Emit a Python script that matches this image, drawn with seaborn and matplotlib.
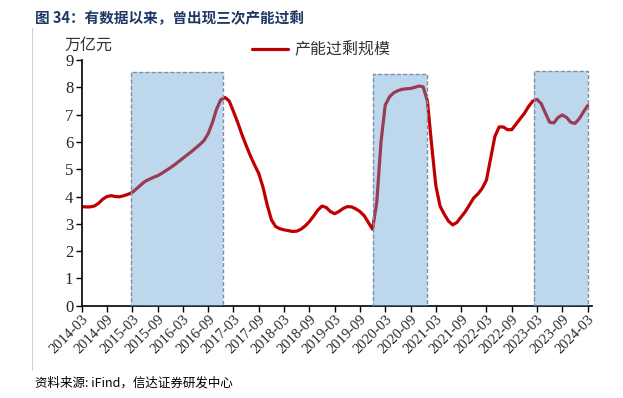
import numpy as np
import pandas as pd
import matplotlib
matplotlib.use("Agg")
import matplotlib.pyplot as plt
import seaborn as sns
from matplotlib.patches import Rectangle
from matplotlib.lines import Line2D

# monthly values, 2014-03 .. 2024-03 (万亿元)
overcap = [
    3.63, 3.62, 3.62, 3.65, 3.75, 3.90, 4.00, 4.03, 4.00, 3.99, 4.03, 4.08,
    4.15, 4.28, 4.42, 4.55, 4.63, 4.70, 4.76, 4.85, 4.95, 5.05, 5.16, 5.28,
    5.40, 5.52, 5.64, 5.77, 5.90, 6.05, 6.30, 6.70, 7.20, 7.55, 7.63, 7.50,
    7.12, 6.72, 6.28, 5.88, 5.50, 5.16, 4.85, 4.35, 3.70, 3.15, 2.90, 2.82,
    2.78, 2.75, 2.72, 2.73, 2.80, 2.92, 3.08, 3.28, 3.50, 3.65, 3.60, 3.45,
    3.37, 3.45, 3.56, 3.63, 3.62, 3.55, 3.45, 3.30, 3.05, 2.80, 3.80, 6.00,
    7.35, 7.65, 7.80, 7.88, 7.93, 7.95, 7.96, 8.00, 8.05, 8.02, 7.50, 5.90,
    4.40, 3.65, 3.35, 3.10, 2.96, 3.05, 3.25, 3.45, 3.70, 3.95, 4.10, 4.30,
    4.60, 5.40, 6.20, 6.55, 6.55, 6.45, 6.45, 6.65, 6.85, 7.05, 7.30, 7.50,
    7.56, 7.40, 7.05, 6.72, 6.70, 6.90, 6.99, 6.90, 6.72, 6.68, 6.85, 7.10,
    7.33,
]
month_idx = list(range(len(overcap)))

tick_labels = ["2014-03", "2014-09", "2015-03", "2015-09", "2016-03", "2016-09",
               "2017-03", "2017-09", "2018-03", "2018-09", "2019-03", "2019-09",
               "2020-03", "2020-09", "2021-03", "2021-09", "2022-03", "2022-09",
               "2023-03", "2023-09", "2024-03"]

# shaded overcapacity periods: (start month idx, end month idx, top)
periods = [(11.6, 33.5, 8.55), (69.1, 81.9, 8.5), (107.3, 120.0, 8.6)]

df = pd.DataFrame({"m": month_idx, "v": overcap})

sns.set_style("ticks")
plt.rcParams['font.family'] = ['Liberation Serif', 'Noto Sans CJK SC', 'DejaVu Sans']

fig = plt.figure(figsize=(6.23, 3.98), dpi=100)
ax = fig.add_axes([0.131, 0.232, 0.819, 0.617])

sns.lineplot(data=df, x="m", y="v", ax=ax, color="#C00000", lw=2.3,
             label="产能过剩规模", zorder=2, solid_joinstyle="round")

for s, e, top in periods:
    ax.add_patch(Rectangle((s, 0), e - s, top, facecolor="#5A9BD4", alpha=0.4,
                           edgecolor="none", zorder=3))
    ax.add_patch(Rectangle((s, 0), e - s, top, facecolor="none",
                           edgecolor="#7F8FA6", lw=1.0, ls=(0, (3, 1.5)), zorder=4))

ax.set_xlim(0, 121)
ax.set_ylim(0, 9)
ax.set_xticks(range(0, 121, 6))
ax.set_xticklabels(tick_labels, rotation=45, ha="right", rotation_mode="anchor",
                   fontsize=10.5, family="Liberation Serif")
ax.set_yticks(range(0, 10))
ax.set_yticklabels([str(i) for i in range(10)], fontsize=12, family="Liberation Serif")
ax.tick_params(axis="both", direction="out", length=4, width=1, color="black", pad=2)
ax.tick_params(axis="x", pad=1)
ax.set_xlabel("")
ax.set_ylabel("")
for sp in ["top", "right"]:
    ax.spines[sp].set_visible(False)
for sp in ["left", "bottom"]:
    ax.spines[sp].set_color("black")
    ax.spines[sp].set_linewidth(1.2)

leg = ax.legend(loc="upper left", bbox_to_anchor=(0.305, 1.135), frameon=False,
                handlelength=2.3, handletextpad=0.4,
                prop={"family": "Noto Sans CJK SC", "size": 11.5})
for t in leg.get_texts():
    t.set_color("#333333")

fig.text(0.103, 0.875, "万亿元", fontsize=11.5, color="#333333", family="Noto Sans CJK SC")
fig.text(0.056, 0.955, "图 34：有数据以来，曾出现三次产能过剩", fontsize=10.5,
         fontweight="bold", color="#1F3864", family=["Noto Sans CJK SC", "DejaVu Sans"],
         va="center")
fig.text(0.056, 0.037, "资料来源: iFind，信达证券研发中心", fontsize=9, style="italic",
         color="black", family=["Noto Sans CJK SC", "DejaVu Sans"], va="center")
fig.add_artist(Line2D([0.052, 0.052], [0.07, 0.93], color="#D0D0D0", lw=0.8))

fig.savefig("out.png", dpi=100)
